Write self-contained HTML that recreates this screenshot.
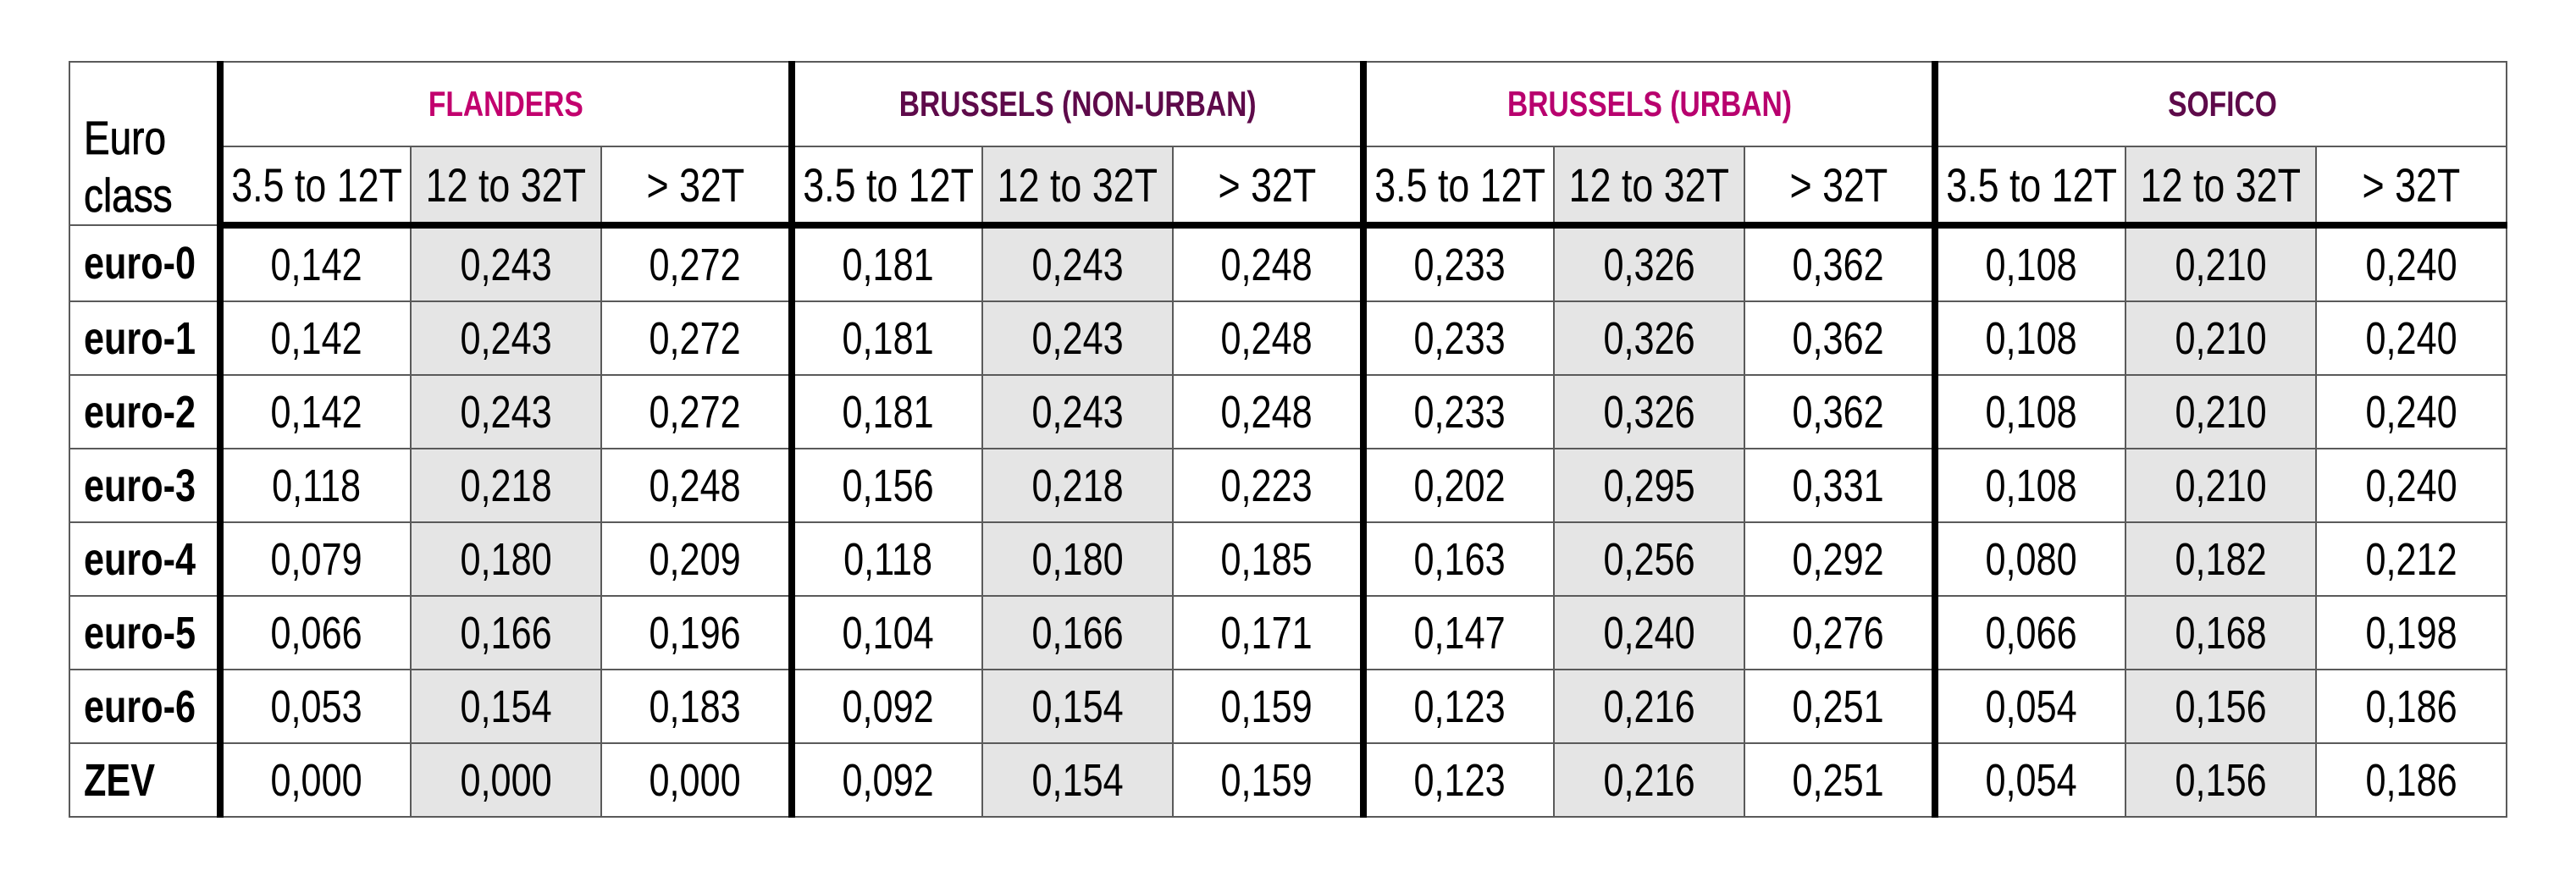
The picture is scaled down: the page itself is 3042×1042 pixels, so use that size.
<!DOCTYPE html>
<html><head><meta charset="utf-8"><style>
html,body{margin:0;padding:0;background:#fff;width:3042px;height:1042px;overflow:hidden}
table{position:absolute;left:81px;top:72px;border-collapse:collapse;table-layout:fixed;width:2878px;font-family:"Liberation Sans",sans-serif;color:#000}
td{border:2px solid #5a5a5a;padding:0;text-align:center;font-size:54px;white-space:nowrap;overflow:visible}
td span{display:inline-block;transform:scaleX(.8);margin:0 -60px}
td.g{background:#e5e5e5}
td.t{border-left:8px solid #000}
td.l{text-align:left;padding-left:16px;font-weight:bold;border-right:8px solid #000}
td.l span{transform-origin:left center;transform:scaleX(.8);margin:0}
tr.h2 td{border-bottom:8px solid #000;font-size:56px}
tr.h2 span{transform:scaleX(.8)}
tr.d td{height:85px}
td.hd{font-weight:bold;font-size:42px;height:98px}
td.hd span{transform:scaleX(.8)}
</style></head><body>
<table>
<colgroup><col style="width:178px"><col span="12" style="width:225px"></colgroup>
<tr><td class="l" rowspan="2" style="vertical-align:bottom;line-height:68px;padding-bottom:0px;font-weight:normal;font-size:56px;-webkit-text-stroke:0.8px #000"><span style="transform:scaleX(.82)">Euro<br>class</span></td>
<td class="hd t" colspan="3" style="color:#c2006e"><span>FLANDERS</span></td>
<td class="hd t" colspan="3" style="color:#5e0a4a"><span>BRUSSELS (NON-URBAN)</span></td>
<td class="hd t" colspan="3" style="color:#b8006e"><span>BRUSSELS (URBAN)</span></td>
<td class="hd t" colspan="3" style="color:#5e0a4a"><span>SOFICO</span></td></tr>
<tr class="h2" style="height:93px">
<td class="t"><span>3.5 to 12T</span></td><td class="g"><span>12 to 32T</span></td><td><span>&gt; 32T</span></td>
<td class="t"><span>3.5 to 12T</span></td><td class="g"><span>12 to 32T</span></td><td><span>&gt; 32T</span></td>
<td class="t"><span>3.5 to 12T</span></td><td class="g"><span>12 to 32T</span></td><td><span>&gt; 32T</span></td>
<td class="t"><span>3.5 to 12T</span></td><td class="g"><span>12 to 32T</span></td><td><span>&gt; 32T</span></td></tr>
<tr class="d"><td class="l"><span>euro-0</span></td><td class="t"><span>0,142</span></td><td class="g"><span>0,243</span></td><td><span>0,272</span></td><td class="t"><span>0,181</span></td><td class="g"><span>0,243</span></td><td><span>0,248</span></td><td class="t"><span>0,233</span></td><td class="g"><span>0,326</span></td><td><span>0,362</span></td><td class="t"><span>0,108</span></td><td class="g"><span>0,210</span></td><td><span>0,240</span></td></tr>
<tr class="d"><td class="l"><span>euro-1</span></td><td class="t"><span>0,142</span></td><td class="g"><span>0,243</span></td><td><span>0,272</span></td><td class="t"><span>0,181</span></td><td class="g"><span>0,243</span></td><td><span>0,248</span></td><td class="t"><span>0,233</span></td><td class="g"><span>0,326</span></td><td><span>0,362</span></td><td class="t"><span>0,108</span></td><td class="g"><span>0,210</span></td><td><span>0,240</span></td></tr>
<tr class="d"><td class="l"><span>euro-2</span></td><td class="t"><span>0,142</span></td><td class="g"><span>0,243</span></td><td><span>0,272</span></td><td class="t"><span>0,181</span></td><td class="g"><span>0,243</span></td><td><span>0,248</span></td><td class="t"><span>0,233</span></td><td class="g"><span>0,326</span></td><td><span>0,362</span></td><td class="t"><span>0,108</span></td><td class="g"><span>0,210</span></td><td><span>0,240</span></td></tr>
<tr class="d"><td class="l"><span>euro-3</span></td><td class="t"><span>0,118</span></td><td class="g"><span>0,218</span></td><td><span>0,248</span></td><td class="t"><span>0,156</span></td><td class="g"><span>0,218</span></td><td><span>0,223</span></td><td class="t"><span>0,202</span></td><td class="g"><span>0,295</span></td><td><span>0,331</span></td><td class="t"><span>0,108</span></td><td class="g"><span>0,210</span></td><td><span>0,240</span></td></tr>
<tr class="d"><td class="l"><span>euro-4</span></td><td class="t"><span>0,079</span></td><td class="g"><span>0,180</span></td><td><span>0,209</span></td><td class="t"><span>0,118</span></td><td class="g"><span>0,180</span></td><td><span>0,185</span></td><td class="t"><span>0,163</span></td><td class="g"><span>0,256</span></td><td><span>0,292</span></td><td class="t"><span>0,080</span></td><td class="g"><span>0,182</span></td><td><span>0,212</span></td></tr>
<tr class="d"><td class="l"><span>euro-5</span></td><td class="t"><span>0,066</span></td><td class="g"><span>0,166</span></td><td><span>0,196</span></td><td class="t"><span>0,104</span></td><td class="g"><span>0,166</span></td><td><span>0,171</span></td><td class="t"><span>0,147</span></td><td class="g"><span>0,240</span></td><td><span>0,276</span></td><td class="t"><span>0,066</span></td><td class="g"><span>0,168</span></td><td><span>0,198</span></td></tr>
<tr class="d"><td class="l"><span>euro-6</span></td><td class="t"><span>0,053</span></td><td class="g"><span>0,154</span></td><td><span>0,183</span></td><td class="t"><span>0,092</span></td><td class="g"><span>0,154</span></td><td><span>0,159</span></td><td class="t"><span>0,123</span></td><td class="g"><span>0,216</span></td><td><span>0,251</span></td><td class="t"><span>0,054</span></td><td class="g"><span>0,156</span></td><td><span>0,186</span></td></tr>
<tr class="d"><td class="l"><span>ZEV</span></td><td class="t"><span>0,000</span></td><td class="g"><span>0,000</span></td><td><span>0,000</span></td><td class="t"><span>0,092</span></td><td class="g"><span>0,154</span></td><td><span>0,159</span></td><td class="t"><span>0,123</span></td><td class="g"><span>0,216</span></td><td><span>0,251</span></td><td class="t"><span>0,054</span></td><td class="g"><span>0,156</span></td><td><span>0,186</span></td></tr>
</table>
</body></html>
